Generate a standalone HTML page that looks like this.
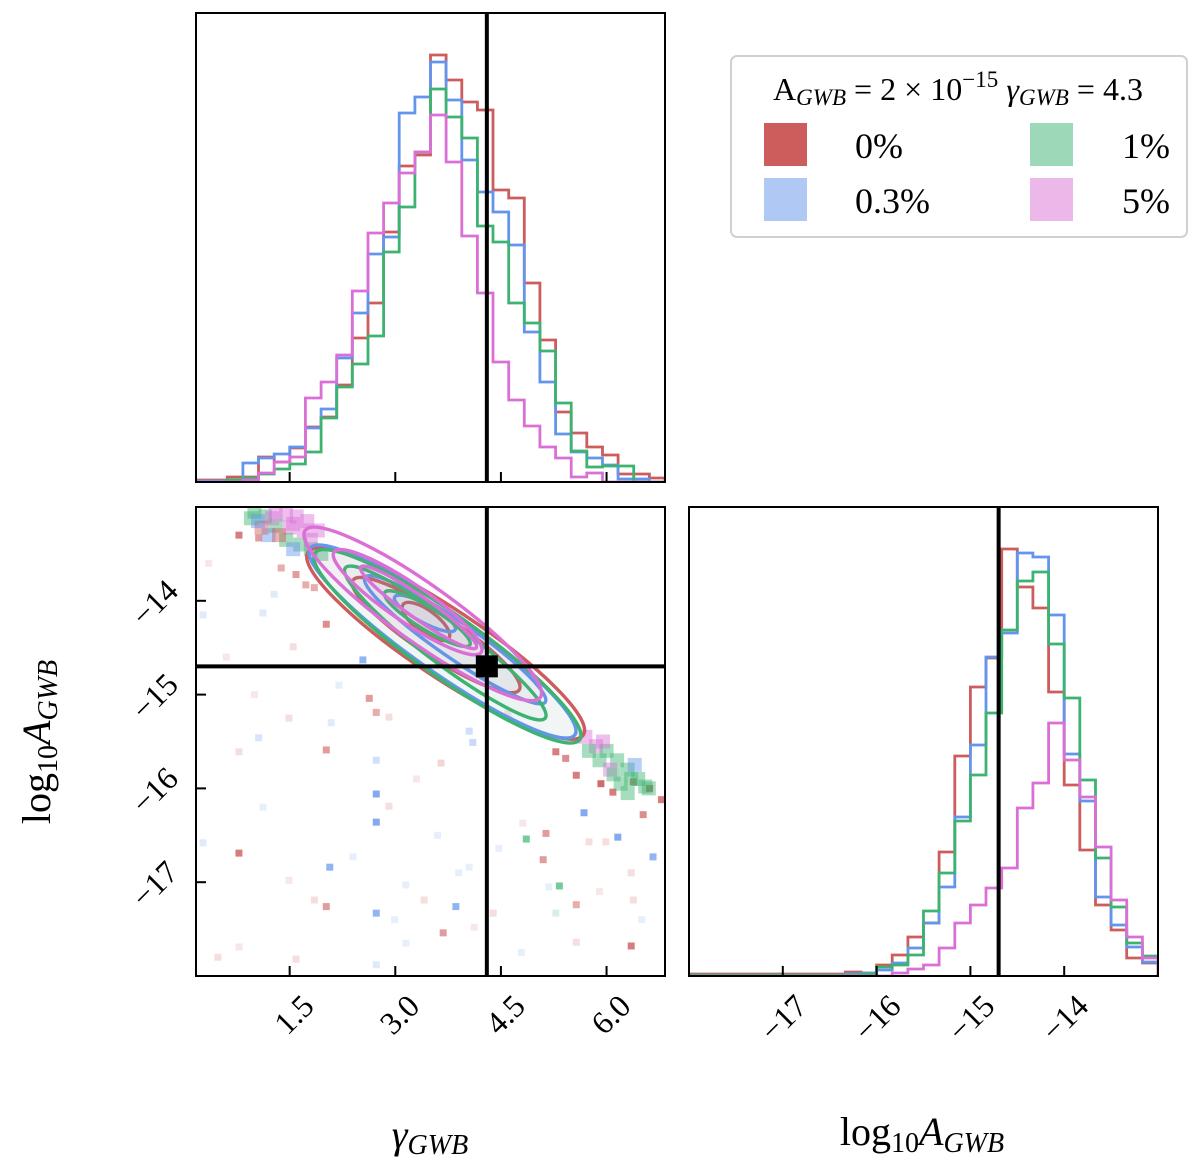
<!DOCTYPE html>
<html><head><meta charset="utf-8"><style>
html,body{margin:0;padding:0;background:#fff;}
svg{display:block;font-family:"Liberation Serif","DejaVu Serif",serif;}
</style></head><body>
<svg id="fig" width="1200" height="1170" viewBox="0 0 1200 1170" xmlns="http://www.w3.org/2000/svg">
<g id="layer"></g>
</svg>
<script>
// ---- data ----
const seriesNames = ["0%", "0.3%", "1%", "5%"];
const seriesColors = ["#cd5c5c", "#6495ed", "#3cb371", "#da70d6"];
const gammaRange = [0.17, 6.83];
const logARange = [-18.0, -13.0];
const gammaTicks = [1.5, 3.0, 4.5, 6.0];
const gammaTickLabels = ["1.5", "3.0", "4.5", "6.0"];
const logATicks = [-17, -16, -15, -14];
const logATickLabels = ["\u221217", "\u221216", "\u221215", "\u221214"];
const truthGamma = 4.3;
const truthLogA = -14.699;
// gamma histogram counts (30 bins)
const gammaHistRed = [2,2,5,5,25,20,34,55,65,97,144,179,250,316,327,427,402,380,372,292,284,199,142,70,49,35,27,8,8,4];
const gammaHistBlue = [1,1,2,19,24,28,35,54,73,124,169,228,245,369,385,420,382,322,290,270,237,150,100,48,30,24,17,3,3,0];
const gammaHistGreen = [0,0,2,4,8,13,18,30,64,95,118,146,230,275,330,393,365,344,256,240,179,159,131,79,31,15,16,16,0,0];
const gammaHistMagenta = [0,0,0,2,9,20,25,84,100,127,191,249,279,309,330,367,320,246,189,120,82,56,35,24,5,9,0,0,0,0];
// log10 A histogram counts (30 bins)
const logAHistRed = [2,2,2,2,2,2,2,2,2,2,4,3,11,21,39,53,124,220,289,318,427,389,368,284,191,126,71,46,18,13];
const logAHistBlue = [1,1,1,1,1,1,1,1,1,1,2,3,6,13,28,53,89,159,231,319,343,423,419,361,222,175,79,51,29,14];
const logAHistGreen = [1,1,1,1,1,1,1,1,1,1,1,2,9,11,21,65,103,155,201,263,346,395,404,332,278,196,118,69,33,20];
const logAHistMagenta = [0,0,0,0,0,0,0,0,0,0,0,0,0,3,7,11,28,53,71,88,108,168,193,253,216,179,129,76,39,18];
const histMax = 469;
// contours: [series, gamma1, logA1, gamma2, logA2, minor half-width]
const contourSeries = [0,0,0, 1,1,1, 2,2,2, 3,3,3];
const contourG1 = [1.76,2.40,3.11, 1.79,2.57,2.99, 1.86,2.29,2.85, 1.72,2.13,2.51];
const contourA1 = [-13.48,-13.78,-14.04, -13.44,-13.75,-13.96, -13.49,-13.65,-13.91, -13.25,-13.48,-13.64];
const contourG2 = [5.67,4.76,3.76, 5.55,5.13,3.85, 5.62,5.13,4.06, 5.06,4.22,4.15];
const contourA2 = [-15.43,-14.95,-14.40, -15.43,-15.08,-14.31, -15.48,-15.25,-14.47, -15.03,-14.55,-14.50];
const contourWidth = [34,21,11, 30,18,9, 31,21,11, 29,19,11];
// scatter samples: gamma, logA, series, alpha
const ptG = [0.78,2.73,2.73,2.07,2.02,2.73,3.86,3.68,6.35,5.68,6.16,4.86,5.33,5.10,6.52,6.66,5.14,5.57,
 1.12,1.49,2.40,2.91,3.15,4.05,3.41,4.12,2.99,1.85,0.78,0.48,0.27,1.59,2.73,3.15,4.47,4.81,5.57,4.79,6.35,6.38,5.99,5.75,5.28,5.18,4.39,
 0.78,2.02,2.54,1.12,1.28,1.55,0.27,2.63,2.73,1.49,2.09,1.06,4.10,4.05,3.65,2.02,2.73,0.78,2.91,
 1.06,1.38,1.59,1.73,1.85,5.28,5.42,5.57,5.92,6.09,6.38,6.61,6.78,0.35,0.6,2.2,3.3,3.6,4.6,5.9,6.5,1.0,3.9];
const ptA = [-16.69,-16.06,-16.36,-16.84,-17.26,-17.33,-17.26,-17.54,-17.68,-16.26,-16.52,-16.54,-17.04,-16.76,-16.28,-16.73,-16.48,-17.24,
 -16.2,-16.98,-16.73,-16.19,-17.03,-16.84,-17.19,-17.48,-17.40,-17.19,-17.69,-17.80,-16.58,-17.82,-17.88,-17.65,-16.64,-16.37,-17.64,-17.75,-16.90,-17.19,-16.57,-16.57,-17.33,-17.05,-17.33,
 -13.30,-14.25,-14.63,-14.13,-13.93,-14.49,-14.15,-15.04,-15.19,-15.25,-15.30,-15.46,-15.51,-15.39,-15.73,-15.59,-15.70,-15.61,-15.24,
 -13.33,-13.65,-13.72,-13.83,-13.86,-15.61,-15.68,-15.86,-15.95,-16.04,-15.93,-16.00,-16.12,-13.6,-14.6,-14.9,-15.9,-16.5,-15.2,-17.1,-17.4,-15.0,-16.9];
const ptS = [0,1,1,1,0,1,1,0,0,1,1,2,2,0,0,1,0,0,
 1,0,1,0,1,1,0,0,1,0,0,0,1,0,1,1,1,0,0,1,0,0,0,0,2,1,0,
 0,0,1,1,1,0,1,0,0,0,1,1,1,1,0,0,1,0,0,
 0,0,0,0,0,0,0,0,0,0,0,0,0,0,0,1,0,1,0,0,1,0,1];
const ptAlpha = [0.8,0.8,0.8,0.7,0.6,0.7,0.7,0.6,0.8,0.8,0.8,0.7,0.7,0.6,0.7,0.7,0.6,0.5,
 0.15,0.15,0.15,0.2,0.15,0.15,0.2,0.15,0.15,0.2,0.15,0.2,0.2,0.2,0.2,0.15,0.15,0.15,0.2,0.15,0.2,0.2,0.2,0.2,0.2,0.15,0.2,
 0.8,0.7,0.7,0.2,0.2,0.2,0.2,0.6,0.5,0.2,0.2,0.25,0.35,0.3,0.25,0.6,0.3,0.2,0.2,
 0.6,0.5,0.6,0.5,0.5,0.8,0.7,0.8,0.9,0.8,0.8,0.9,0.8,0.15,0.15,0.15,0.15,0.15,0.15,0.15,0.15,0.15,0.15];
// dense sample band clusters
const clG = [1.0,1.15,1.3,1.45,1.6,1.3,1.5,1.7,1.2,1.45,1.65,1.8,1.1,1.35,1.55,1.8,1.95,0.95,1.75,1.9,1.05,1.25,1.55,
 5.7,5.85,6.0,6.15,5.9,6.3,6.45,6.2,6.4,6.05,5.75,6.55,6.3,5.95,6.1,6.35,6.6];
const clA = [-13.05,-13.1,-13.05,-13.08,-13.1,-13.2,-13.22,-13.25,-13.3,-13.35,-13.4,-13.45,-13.22,-13.3,-13.45,-13.35,-13.5,-13.12,-13.15,-13.25,-13.15,-13.12,-13.18,
 -15.45,-15.55,-15.6,-15.7,-15.7,-15.8,-15.9,-15.95,-15.75,-15.8,-15.6,-15.98,-16.05,-15.5,-15.85,-15.9,-16.0];
const clS = [2,2,3,3,3,2,3,3,1,2,2,2,0,0,1,3,2,2,3,3,1,3,3,
 3,3,2,2,2,2,2,2,1,3,2,2,2,3,2,2,2];

// ---- layout ----
const NS = "http://www.w3.org/2000/svg";
const layer = document.getElementById("layer");
const P_TL = {x0:196, x1:665, y0:13, y1:482};
const P_BL = {x0:196, x1:665, y0:507, y1:976};
const P_BR = {x0:689, x1:1158, y0:507, y1:976};
function sx(p, v, r){ return p.x0 + (v - r[0]) / (r[1] - r[0]) * (p.x1 - p.x0); }
function syA(p, v, r){ return p.y1 - (v - r[0]) / (r[1] - r[0]) * (p.y1 - p.y0); }
function syH(p, v){ return p.y1 - v / histMax * (p.y1 - p.y0); }
function mk(tag, attrs, parent){
  const e = document.createElementNS(NS, tag);
  for (const k in attrs) e.setAttribute(k, attrs[k]);
  (parent || layer).appendChild(e);
  return e;
}
function clipFor(p, id){
  const cp = mk("clipPath", {id:id});
  mk("rect", {x:p.x0, y:p.y0, width:p.x1-p.x0, height:p.y1-p.y0}, cp);
}
clipFor(P_TL, "cTL"); clipFor(P_BL, "cBL"); clipFor(P_BR, "cBR");

function drawHist(p, counts, range, color, name, clip){
  const n = counts.length;
  const w = (range[1] - range[0]) / n;
  let d = "M" + sx(p, range[0], range).toFixed(1) + "," + p.y1;
  for (let i = 0; i < n; i++){
    const xa = sx(p, range[0] + i*w, range), xb = sx(p, range[0] + (i+1)*w, range);
    const y = syH(p, counts[i]);
    d += " L" + xa.toFixed(1) + "," + y.toFixed(1) + " L" + xb.toFixed(1) + "," + y.toFixed(1);
  }
  d += " L" + sx(p, range[1], range).toFixed(1) + "," + p.y1;
  const el = mk("path", {d:d, fill:"none", stroke:color, "stroke-width":2.8, "clip-path":"url(#"+clip+")"});
  
  
}

// ---- top-left gamma histogram ----
drawHist(P_TL, gammaHistRed, gammaRange, seriesColors[0], "gamma-hist-0pct", "cTL");
drawHist(P_TL, gammaHistBlue, gammaRange, seriesColors[1], "gamma-hist-0.3pct", "cTL");
drawHist(P_TL, gammaHistGreen, gammaRange, seriesColors[2], "gamma-hist-1pct", "cTL");
drawHist(P_TL, gammaHistMagenta, gammaRange, seriesColors[3], "gamma-hist-5pct", "cTL");
{
  const x = sx(P_TL, truthGamma, gammaRange);
  const t = mk("line", {x1:x, x2:x, y1:P_TL.y0, y2:P_TL.y1, stroke:"#000", "stroke-width":4});
  
  
}

// ---- bottom-left 2D panel ----
const scat = mk("g", {"clip-path":"url(#cBL)"});


for (let i = 0; i < ptG.length; i++){
  const x = sx(P_BL, ptG[i], gammaRange), y = syA(P_BL, ptA[i], logARange);
  const r = mk("rect", {x:x-3.5, y:y-3.5, width:7, height:7, fill:seriesColors[ptS[i]], "fill-opacity":ptAlpha[i]}, scat);
  
  
}
for (let i = 0; i < clG.length; i++){
  const x = sx(P_BL, clG[i], gammaRange), y = syA(P_BL, clA[i], logARange);
  const r = mk("rect", {x:x-7, y:y-7, width:14, height:14, fill:seriesColors[clS[i]], "fill-opacity":0.45}, scat);
  
  
}
const cont = mk("g", {"clip-path":"url(#cBL)"});


for (let i = 0; i < contourSeries.length; i++){
  const x1 = sx(P_BL, contourG1[i], gammaRange), y1 = syA(P_BL, contourA1[i], logARange);
  const x2 = sx(P_BL, contourG2[i], gammaRange), y2 = syA(P_BL, contourA2[i], logARange);
  const cx = (x1+x2)/2, cy = (y1+y2)/2;
  const rx = Math.hypot(x2-x1, y2-y1)/2;
  const ang = Math.atan2(y2-y1, x2-x1) * 180 / Math.PI;
  const c = seriesColors[contourSeries[i]];
  const e = mk("ellipse", {cx:cx, cy:cy, rx:rx, ry:contourWidth[i], fill:c, "fill-opacity":0.03, stroke:c, "stroke-width":3.4, transform:"rotate("+ang.toFixed(2)+" "+cx.toFixed(1)+" "+cy.toFixed(1)+")"}, cont);
  
  
}
{
  const x = sx(P_BL, truthGamma, gammaRange), y = syA(P_BL, truthLogA, logARange);
  const v = mk("line", {x1:x, x2:x, y1:P_BL.y0, y2:P_BL.y1, stroke:"#000", "stroke-width":4});
  
  
  const h = mk("line", {x1:P_BL.x0, x2:P_BL.x1, y1:y, y2:y, stroke:"#000", "stroke-width":4});
  
  
  const s = mk("rect", {x:x-11, y:y-11, width:22, height:22, fill:"#000"});
  
  
}

// ---- bottom-right logA histogram ----
drawHist(P_BR, logAHistRed, logARange, seriesColors[0], "logA-hist-0pct", "cBR");
drawHist(P_BR, logAHistBlue, logARange, seriesColors[1], "logA-hist-0.3pct", "cBR");
drawHist(P_BR, logAHistGreen, logARange, seriesColors[2], "logA-hist-1pct", "cBR");
drawHist(P_BR, logAHistMagenta, logARange, seriesColors[3], "logA-hist-5pct", "cBR");
{
  const x = sx(P_BR, truthLogA, logARange);
  const t = mk("line", {x1:x, x2:x, y1:P_BR.y0, y2:P_BR.y1, stroke:"#000", "stroke-width":4});
  
  
}

// ---- frames & ticks ----
[[P_TL,"gamma-hist-frame"],[P_BL,"joint-frame"],[P_BR,"logA-hist-frame"]].forEach(function(a){
  const p = a[0];
  const f = mk("rect", {x:p.x0, y:p.y0, width:p.x1-p.x0, height:p.y1-p.y0, fill:"none", stroke:"#000", "stroke-width":2});
  
  
});
function xTicks(p, ticks, range, labels){
  for (let i = 0; i < ticks.length; i++){
    const x = sx(p, ticks[i], range);
    const t = mk("line", {x1:x, x2:x, y1:p.y1, y2:p.y1-10, stroke:"#000", "stroke-width":2});
    
    
    if (labels){
      const ax = x + 26, ay = 1008;
      const tx = mk("text", {x:ax, y:ay, "text-anchor":"end", "font-size":32, transform:"rotate(-45 "+ax+" "+ay+")"});
      tx.textContent = labels[i];
      
      
    }
  }
}
xTicks(P_TL, gammaTicks, gammaRange, null);
xTicks(P_BL, gammaTicks, gammaRange, gammaTickLabels);
xTicks(P_BR, logATicks, logARange, logATickLabels);
for (let i = 0; i < logATicks.length; i++){
  const y = syA(P_BL, logATicks[i], logARange);
  const t = mk("line", {x1:P_BL.x0, x2:P_BL.x0+10, y1:y, y2:y, stroke:"#000", "stroke-width":2});
  
  
  const ax = 180, ay = y - 8;
  const tx = mk("text", {x:ax, y:ay, "text-anchor":"end", "font-size":32, transform:"rotate(-45 "+ax+" "+ay+")"});
  tx.textContent = logATickLabels[i];
  
  
}
</script>

<svg width="1200" height="1170" style="position:absolute;left:0;top:0;font-family:'Liberation Serif','DejaVu Serif',serif">
<text x="430" y="1148" text-anchor="middle" font-size="40" font-style="italic">γ<tspan font-size="28" dy="6">GWB</tspan></text>
<text x="922" y="1145" text-anchor="middle" font-size="40">log<tspan font-size="28" dy="7">10</tspan><tspan font-style="italic" dy="-7">A</tspan><tspan font-style="italic" font-size="28" dy="7">GWB</tspan></text>
<text transform="translate(50 742) rotate(-90)" text-anchor="middle" font-size="40">log<tspan font-size="28" dy="7">10</tspan><tspan font-style="italic" dy="-7">A</tspan><tspan font-style="italic" font-size="28" dy="7">GWB</tspan></text>
<g>
<rect x="731" y="56" width="456" height="181" rx="6" fill="#fff" stroke="#d0d0d0" stroke-width="2"/>
<text x="773" y="100" font-size="32" textLength="370" lengthAdjust="spacing">A<tspan font-style="italic" font-size="23" dy="5">GWB</tspan><tspan dy="-5"> = 2 × 10</tspan><tspan font-size="23" dy="-13">−15</tspan><tspan font-style="italic" dy="13"> γ</tspan><tspan font-style="italic" font-size="23" dy="5">GWB</tspan><tspan dy="-5"> = 4.3</tspan></text>
<rect x="764" y="123" width="43" height="43" fill="#cd5c5c"/>
<text x="855" y="158" font-size="36">0%</text>
<rect x="764" y="178" width="43" height="43" fill="#afc8f4"/>
<text x="855" y="213" font-size="36">0.3%</text>
<rect x="1030" y="123" width="43" height="43" fill="#9dd8b8"/>
<text x="1170" y="158" font-size="36" text-anchor="end">1%</text>
<rect x="1030" y="178" width="43" height="43" fill="#ecb7e9"/>
<text x="1170" y="213" font-size="36" text-anchor="end">5%</text>
</g>
</svg>
</body></html>
